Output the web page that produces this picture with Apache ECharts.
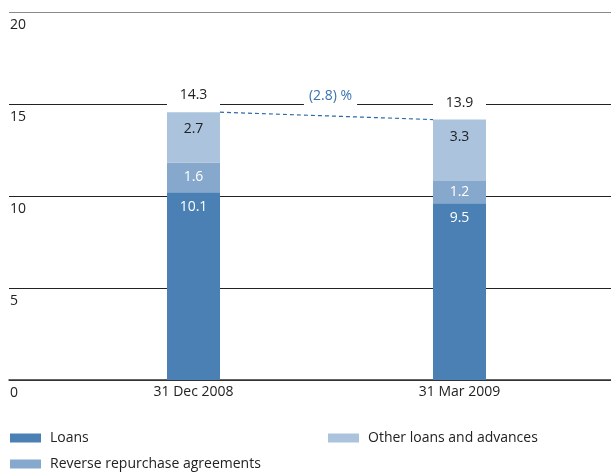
<!DOCTYPE html>
<html>
<head>
<meta charset="utf-8">
<script src="https://cdn.jsdelivr.net/npm/echarts@6/dist/echarts.min.js"></script>
<style>
  html, body { margin: 0; padding: 0; background: #fff; }
  #chart { width: 611px; height: 472px; }
</style>
</head>
<body>
<div id="chart"></div>
<script>
// values in EUR bn
var categories = ['31 Dec 2008', '31 Mar 2009'];
var loans = [10.1, 9.5];
var reverseRepo = [1.6, 1.2];
var otherLoans = [2.7, 3.3];
var totals = [14.3, 13.9];
var yTicks = [0, 5, 10, 15, 20];

var FONT = '"Open Sans", "Noto Sans", sans-serif';
var TEXT = '#222';
var BLUE = '#3a72b0';

var barWidth = 53;
var barGridLeft = 60.5;
var barGridWidth = 532;
var catWidth = barGridWidth / categories.length;

// stack tops, used to place the total labels and the dashed connector
var stackTops = categories.map(function (c, i) {
    return +(loans[i] + reverseRepo[i] + otherLoans[i]).toFixed(1);
});
var change = (totals[1] - totals[0]) / totals[0] * 100;
var changeText = change < 0 ? '(' + Math.abs(change).toFixed(1) + ') %' : change.toFixed(1) + ' %';
var half = barWidth / 2 / catWidth;

function legendAt(name, left, top) {
    return {
        data: [name],
        left: left, top: top, padding: 0,
        itemWidth: 31, itemHeight: 9,
        icon: 'rect',
        textStyle: { color: TEXT, fontSize: 14, fontFamily: FONT, padding: [0, 0, 0, 4] }
    };
}

var myChart = echarts.init(document.getElementById('chart'));

var option = {
    backgroundColor: '#fff',
    animation: false,
    textStyle: { fontFamily: FONT },
    grid: [
        { left: 9, right: 0, top: 12, bottom: 92 },
        { left: barGridLeft, width: barGridWidth, top: 8, bottom: 92 }
    ],
    legend: [
        legendAt('Loans', 10, 431),
        legendAt('Other loans and advances', 328, 431),
        legendAt('Reverse repurchase agreements', 10, 457)
    ],
    xAxis: [
        {
            gridIndex: 0, type: 'value', min: 0, max: 1,
            axisLine: { show: true, onZero: false, lineStyle: { color: '#333', width: 1.5 } },
            axisTick: { show: false }, axisLabel: { show: false }, splitLine: { show: false }
        },
        {
            gridIndex: 1, type: 'category', data: categories,
            axisLine: { show: false }, axisTick: { show: false },
            axisLabel: { color: TEXT, fontSize: 14, fontFamily: FONT, margin: 5 }
        },
        {
            gridIndex: 1, type: 'value', min: 0, max: categories.length, show: false
        }
    ],
    yAxis: [
        {
            gridIndex: 0, type: 'value', min: yTicks[0], max: yTicks[yTicks.length - 1],
            interval: yTicks[1] - yTicks[0],
            axisLine: { show: false }, axisTick: { show: false },
            axisLabel: {
                inside: true, margin: 1, color: TEXT, fontSize: 14, fontFamily: FONT,
                verticalAlign: 'top', padding: [6, 0, 0, 0],
                showMinLabel: true, showMaxLabel: true
            },
            splitLine: { lineStyle: { color: ['#333', '#222', '#222', '#222', '#8a8a8a'], width: 1 } }
        },
        {
            gridIndex: 1, type: 'value', min: yTicks[0], max: yTicks[yTicks.length - 1], show: false
        }
    ],
    series: [
        {
            name: 'Loans', type: 'bar', stack: 'total', barWidth: barWidth,
            xAxisIndex: 1, yAxisIndex: 1,
            itemStyle: { color: '#4a80b4' },
            label: { show: true, position: 'insideTop', distance: 8, color: '#fff', fontSize: 14, fontFamily: FONT },
            data: loans
        },
        {
            name: 'Reverse repurchase agreements', type: 'bar', stack: 'total', barWidth: barWidth,
            xAxisIndex: 1, yAxisIndex: 1,
            itemStyle: { color: '#86a8cc' },
            label: { show: true, position: 'inside', color: '#fff', fontSize: 14, fontFamily: FONT },
            data: reverseRepo
        },
        {
            name: 'Other loans and advances', type: 'bar', stack: 'total', barWidth: barWidth,
            xAxisIndex: 1, yAxisIndex: 1,
            itemStyle: { color: '#abc3dd' },
            label: { show: true, position: 'insideTop', distance: 10, color: TEXT, fontSize: 14, fontFamily: FONT },
            data: otherLoans
        },
        {
            name: 'totals', type: 'scatter', xAxisIndex: 1, yAxisIndex: 1,
            symbolSize: 0, silent: true, z: 5,
            itemStyle: { opacity: 1 },
            label: {
                show: true, position: 'top', distance: 7,
                formatter: function (p) { return totals[p.dataIndex].toFixed(1); },
                color: TEXT, fontSize: 14, fontFamily: FONT,
                backgroundColor: '#fff', width: barWidth, height: 20, lineHeight: 20, align: 'center'
            },
            data: categories.map(function (c, i) { return [c, stackTops[i]]; })
        },
        {
            name: 'connector', type: 'line', xAxisIndex: 2, yAxisIndex: 1,
            symbol: 'none', silent: true,
            lineStyle: { color: '#2f6aa8', width: 1.2, type: [4, 3] },
            data: [[0.5 + half, stackTops[0]], [1.5 - half, stackTops[1]]]
        },
        {
            name: 'change', type: 'scatter', xAxisIndex: 2, yAxisIndex: 1,
            symbolSize: 0, silent: true, z: 5,
            itemStyle: { opacity: 1 },
            label: {
                show: true, position: 'top', distance: 9, offset: [4, 0],
                formatter: changeText,
                color: BLUE, fontSize: 14, fontFamily: FONT, lineHeight: 16,
                backgroundColor: '#fff', padding: [3, 5]
            },
            data: [[1, (stackTops[0] + stackTops[1]) / 2]]
        }
    ]
};

myChart.setOption(option);
</script>
</body>
</html>
